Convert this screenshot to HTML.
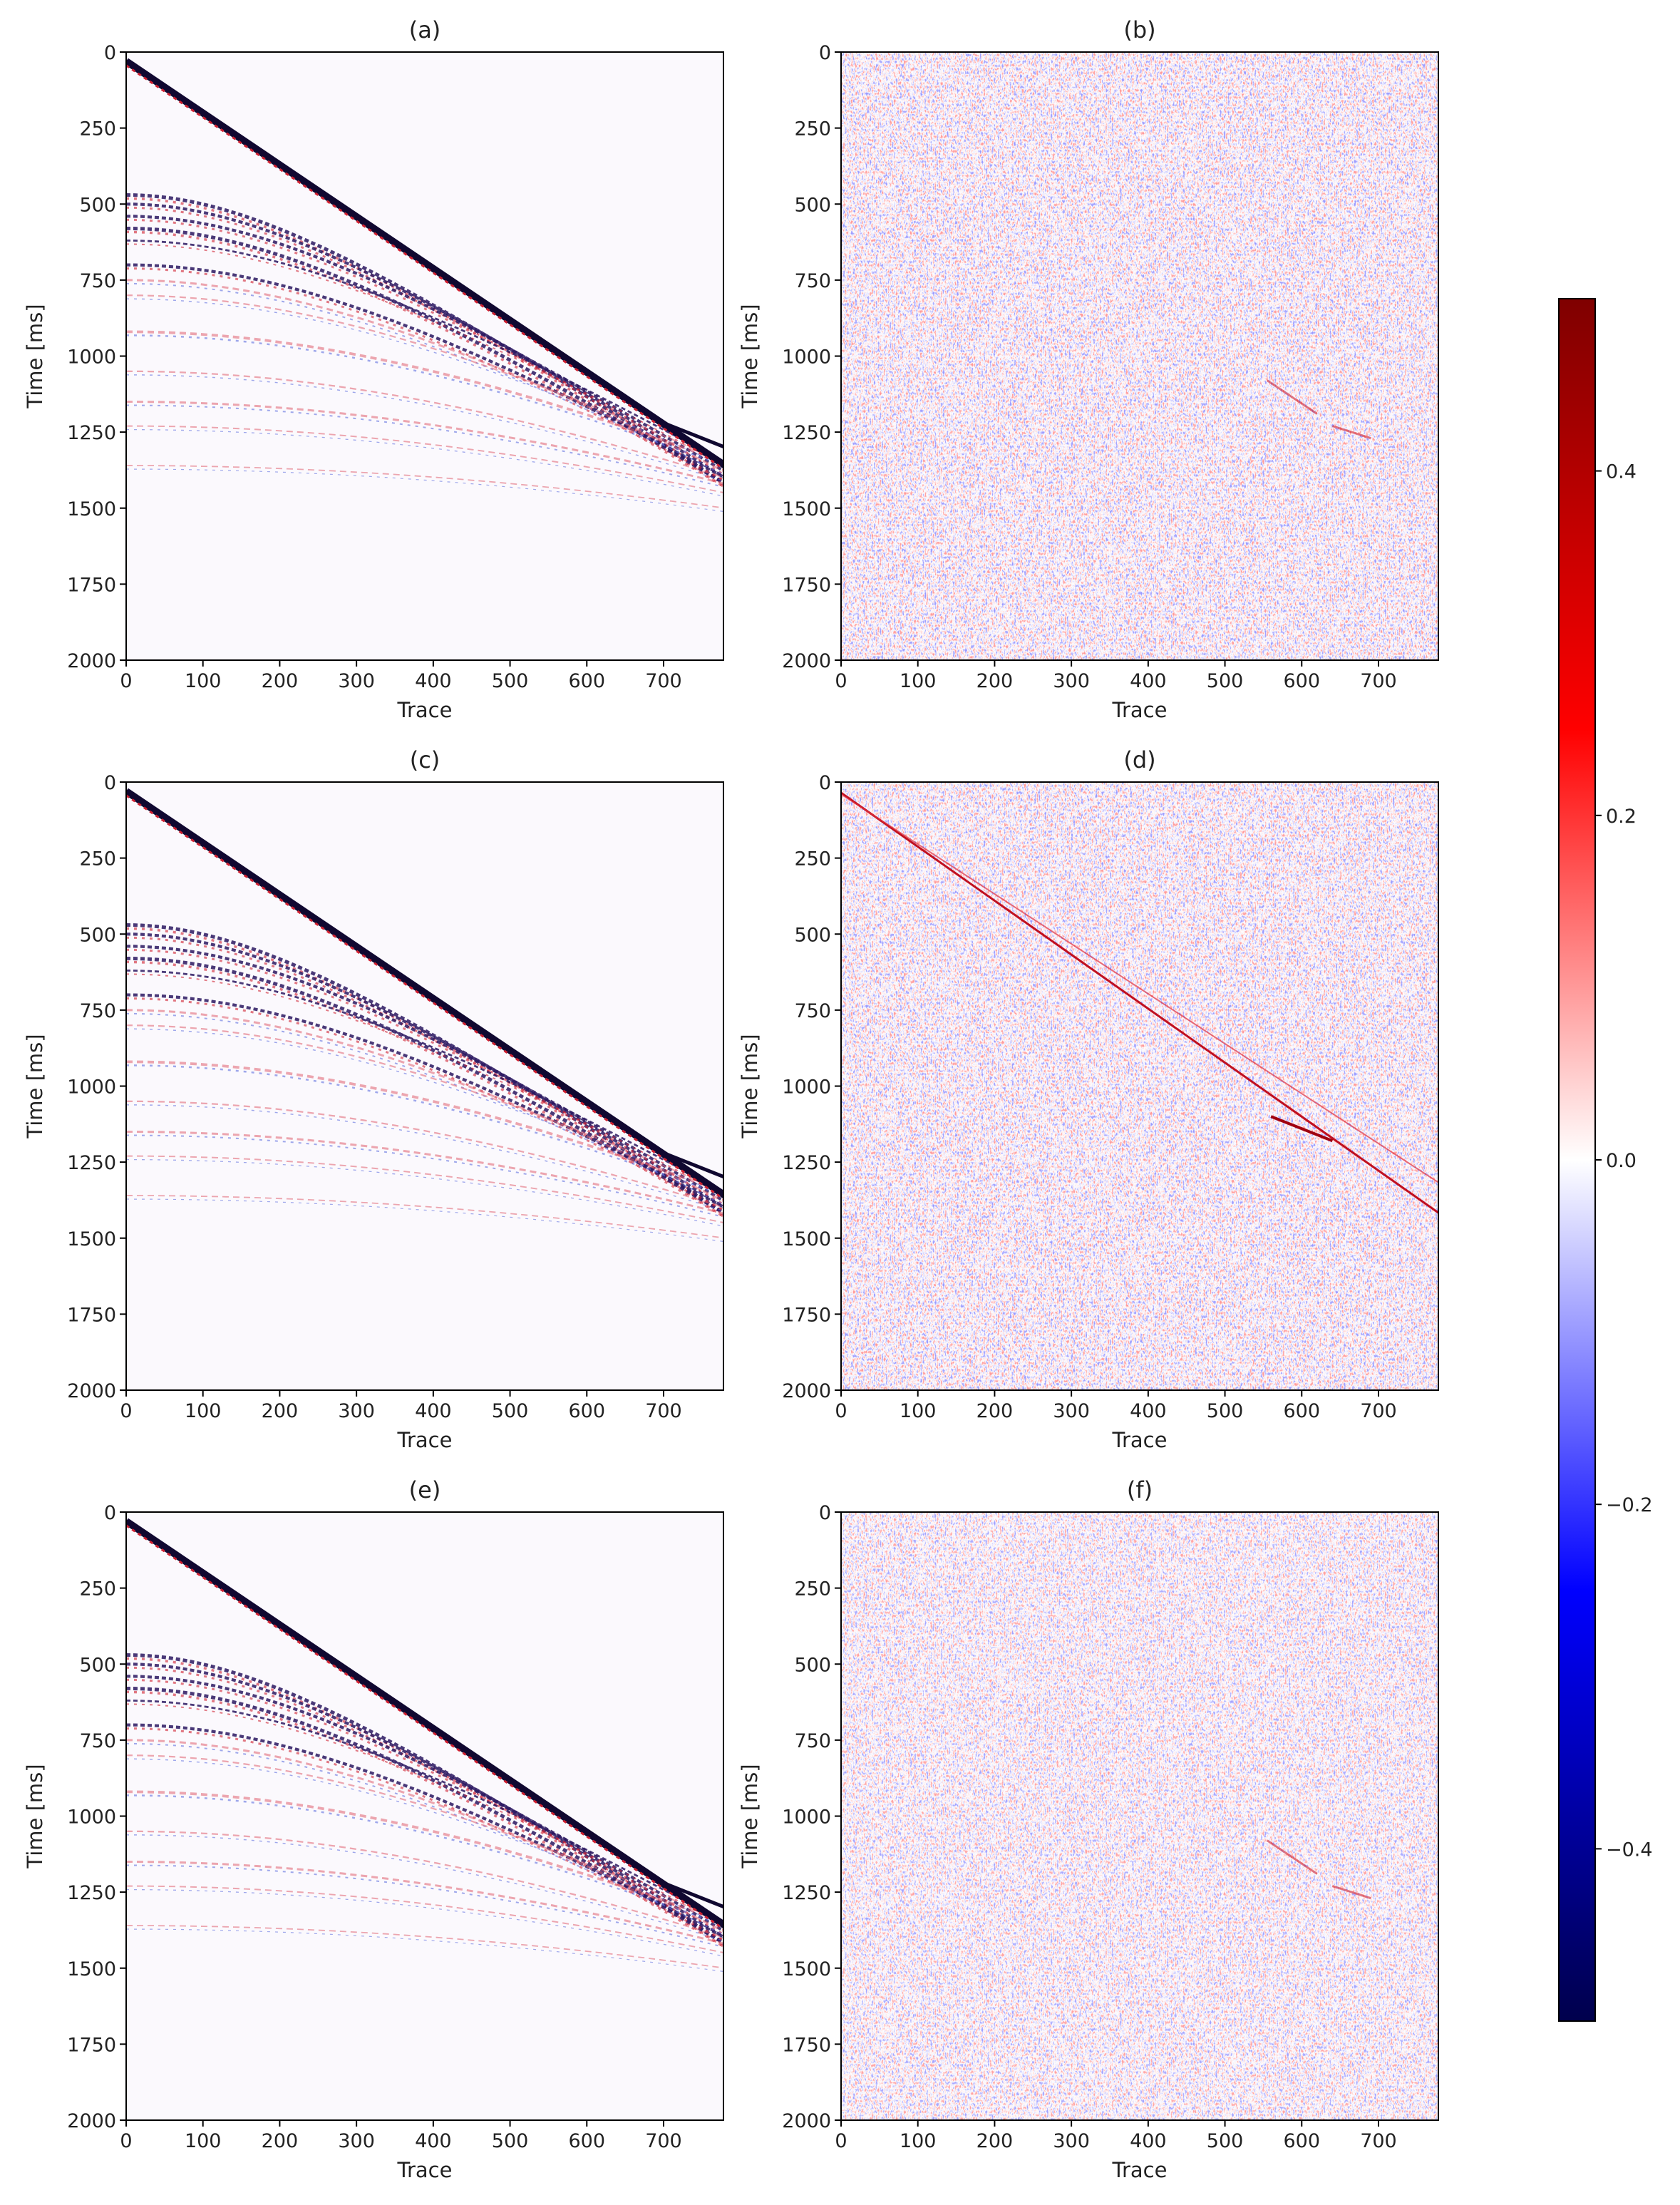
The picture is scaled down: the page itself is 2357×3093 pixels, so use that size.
<!DOCTYPE html>
<html><head><meta charset="utf-8"><style>
html,body{margin:0;padding:0;background:#fff}
svg{display:block}
text{font-family:"DejaVu Sans","Liberation Sans",sans-serif;fill:#222}
</style></head><body>
<svg id="s" xmlns="http://www.w3.org/2000/svg" width="2357" height="3093" viewBox="0 0 2357 3093">
<defs>
<filter id="nz" x="0" y="0" width="100%" height="100%" filterUnits="objectBoundingBox">
<feTurbulence type="fractalNoise" baseFrequency="0.35 0.2" numOctaves="2" seed="3" result="t"/>
<feColorMatrix type="matrix" values="1 0 0 0 0  1 0 0 0 0  1 0 0 0 0  0 0 0 0 1"/>
<feComponentTransfer>
<feFuncR type="table" tableValues="0.3 0.3 0.3 0.4 0.75 1 1 1 1 1 1"/>
<feFuncG type="table" tableValues="0.3 0.3 0.3 0.4 0.75 1 0.75 0.4 0.3 0.3 0.3"/>
<feFuncB type="table" tableValues="1 1 1 1 1 1 0.75 0.4 0.3 0.3 0.3"/>
</feComponentTransfer>
</filter>
<linearGradient id="cb" x1="0" y1="0" x2="0" y2="1">
<stop offset="0" stop-color="#7f0000"/>
<stop offset="0.25" stop-color="#ff0000"/>
<stop offset="0.5" stop-color="#ffffff"/>
<stop offset="0.75" stop-color="#0000ff"/>
<stop offset="1" stop-color="#00004c"/>
</linearGradient>
</defs>
</svg>
<script>
const NS="http://www.w3.org/2000/svg",S=document.getElementById('s');
function el(t,a,p){const e=document.createElementNS(NS,t);for(const k in a)e.setAttribute(k,a[k]);(p||S).appendChild(e);return e;}
function txt(x,y,s,a){const e=el('text',Object.assign({x:x,y:y,'font-size':27,'text-anchor':'middle'},a||{}));e.textContent=s;return e;}
const cols=[177,1180],W=838,rows=[73,1097,2121],H=853,TMAX=778;
const titles=[['(a)','(b)'],['(c)','(d)'],['(e)','(f)']];
const curves=[[470,1420,3.5],[500,1400,3],[540,1380,3],[580,1420,3.5],[620,1350,2],[700,1400,3],[750,1380,2],[800,1350,1.5],[920,1350,2.5],[1050,1400,1.5],[1150,1420,2],[1230,1450,1.3],[1360,1500,1.2]];
function X(L,tr){return L+tr*W/TMAX;}function Y(T,t){return T+t*H/2000;}
for(let r=0;r<3;r++)for(let c=0;c<2;c++){
 const L=cols[c],T=rows[r];
 const cp=el('clipPath',{id:'c'+r+c});el('rect',{x:L,y:T,width:W,height:H},cp);
 const g=el('g',{'clip-path':'url(#c'+r+c+')'});
 if(c==0){
  el('rect',{x:L,y:T,width:W,height:H,fill:'#fbf9fd'},g);
  curves.forEach((cv,i)=>{
   const [t0,te,w]=cv;let d='';
   for(let tr=0;tr<=780;tr+=10){const t=Math.sqrt(t0*t0+(tr/780)**2*(te*te-t0*t0));d+=(tr?'L':'M')+X(L,tr).toFixed(1)+' '+Y(T,t).toFixed(1);}
   const strong=i<6;
   el('path',{d:d,fill:'none',stroke:strong?'#2a1860':'#e06070','stroke-width':strong?w*1.4:w*1.5,'stroke-dasharray':strong?'6 4':'9 6',opacity:strong?0.85:0.55},g);
   el('path',{d:d,fill:'none',stroke:strong?'#d02030':'#6070e0','stroke-width':w,'stroke-dasharray':'4 7',transform:'translate(0 5)',opacity:0.6},g);
  });
  el('line',{x1:X(L,0),y1:Y(T,30),x2:X(L,780),y2:Y(T,1360),stroke:'#100830','stroke-width':10},g);
  el('line',{x1:X(L,0),y1:Y(T,30)+6,x2:X(L,780),y2:Y(T,1360)+6,stroke:'#d02030','stroke-width':3,'stroke-dasharray':'5 5'},g);
  el('line',{x1:X(L,700),y1:Y(T,1220),x2:X(L,780),y2:Y(T,1300),stroke:'#100830','stroke-width':5},g);
 }else{
  el('rect',{x:L,y:T,width:W,height:H,fill:'#e8dcef',filter:'url(#nz)'},g);
  el('rect',{x:L,y:T,width:W,height:H,fill:'#fff',opacity:r==2?0.12:0.05},g);
  if(r==1){
   el('line',{x1:X(L,0),y1:Y(T,35),x2:X(L,780),y2:Y(T,1420),stroke:'#c01020','stroke-width':3},g);
   el('line',{x1:X(L,0),y1:Y(T,40),x2:X(L,780),y2:Y(T,1320),stroke:'#e03040','stroke-width':2,opacity:0.7},g);
   el('line',{x1:X(L,560),y1:Y(T,1100),x2:X(L,640),y2:Y(T,1180),stroke:'#a00010','stroke-width':4},g);
  }else{
   el('line',{x1:X(L,555),y1:Y(T,1080),x2:X(L,620),y2:Y(T,1190),stroke:'#d02030','stroke-width':3,opacity:0.6},g);
   el('line',{x1:X(L,640),y1:Y(T,1230),x2:X(L,690),y2:Y(T,1270),stroke:'#d02030','stroke-width':3,opacity:0.6},g);
  }
 }
 el('rect',{x:L,y:T,width:W,height:H,fill:'none',stroke:'#000','stroke-width':2});
 txt(L+W/2,T-20,titles[r][c],{'font-size':32});
 for(let tr=0;tr<=700;tr+=100){const x=X(L,tr);el('line',{x1:x,y1:T+H,x2:x,y2:T+H+9,stroke:'#000','stroke-width':2});txt(x,T+H+38,String(tr));}
 for(let t=0;t<=2000;t+=250){const y=Y(T,t);el('line',{x1:L-9,y1:y,x2:L,y2:y,stroke:'#000','stroke-width':2});txt(L-14,y+10,String(t),{'text-anchor':'end'});}
 txt(L+W/2,T+H+80,'Trace',{'font-size':29});
 txt(0,0,'Time [ms]',{'font-size':29,transform:'translate('+(L-118)+' '+(T+H/2)+') rotate(-90)'});
}
el('rect',{x:2187,y:419,width:51,height:2416,fill:'url(#cb)',stroke:'#000','stroke-width':2});
[[0.4,'0.4'],[0.2,'0.2'],[0,'0.0'],[-0.2,'\u22120.2'],[-0.4,'\u22120.4']].forEach(([v,s])=>{
 const y=419+(0.5-v)*2416;el('line',{x1:2238,y1:y,x2:2247,y2:y,stroke:'#000','stroke-width':2});txt(2253,y+10,s,{'text-anchor':'start'});});
</script>
</body></html>
